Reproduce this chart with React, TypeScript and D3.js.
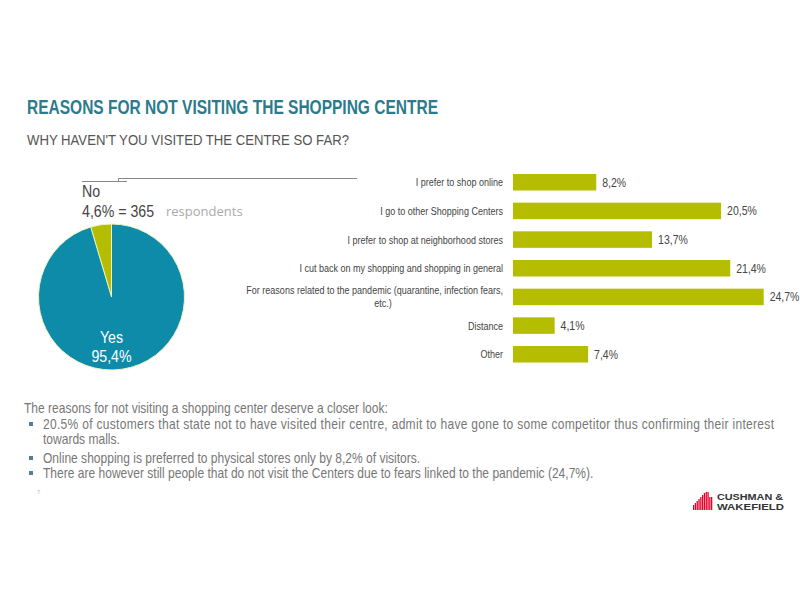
import React from "react";
import * as d3 from "d3";

const categories = [
  "I prefer to shop online",
  "I go to other Shopping Centers",
  "I prefer to shop at neighborhood stores",
  "I cut back on my shopping and shopping in general",
  "For reasons related to the pandemic (quarantine, infection fears,|etc.)",
  "Distance",
  "Other",
];
const values = [8.2, 20.5, 13.7, 21.4, 24.7, 4.1, 7.4];
const valueLabels = ["8,2%", "20,5%", "13,7%", "21,4%", "24,7%", "4,1%", "7,4%"];

const pieLabels = ["No", "Yes"];
const pieValues = [4.6, 95.4];
const pieValueLabels = ["4,6%", "95,4%"];

const bullets = [
  "20.5% of customers that state not to have visited their centre, admit to have gone to some competitor thus confirming their interest",
  "towards malls.",
  "Online shopping is preferred to physical stores only by 8,2% of visitors.",
  "There are however still people that do not visit the Centers due to fears linked to the pandemic (24,7%).",
];

const SANS = "'Liberation Sans', Arial, sans-serif";
const OLIVE = "#b5bd00";
const TEAL = "#0e8ba8";

type NProps = {
  x: number;
  y: number;
  size: number;
  fill: string;
  sx?: number;
  anchor?: "start" | "middle" | "end";
  weight?: string;
  len?: number;
  children: React.ReactNode;
};

function N({ x, y, size, fill, sx = 0.82, anchor = "start", weight = "normal", len, children }: NProps) {
  const extra: any = len ? { textLength: len / sx, lengthAdjust: "spacing" } : {};
  return (
    <text
      transform={`translate(${x},${y}) scale(${sx},1)`}
      textAnchor={anchor}
      fontFamily={SANS}
      fontSize={size}
      fontWeight={weight}
      fill={fill}
      {...extra}
    >
      {children}
    </text>
  );
}

export default function App() {
  const x = d3.scaleLinear().domain([0, 1]).range([513, 523.15]);
  const y = d3
    .scaleBand<string>()
    .domain(categories)
    .range([167.9, 368.6])
    .paddingInner(0.424)
    .paddingOuter(0.212);

  const pie = d3
    .pie<number>()
    .sort(null)
    .startAngle(-2 * Math.PI * (pieValues[0] / 100))
    .endAngle(2 * Math.PI - 2 * Math.PI * (pieValues[0] / 100));
  const arcs = pie(pieValues);
  const arc = d3.arc<d3.PieArcDatum<number>>().innerRadius(0).outerRadius(73);
  const pieColors = [OLIVE, TEAL];
  const cx = 111.5;
  const cy = 297;

  const logoBars = [5, 7, 9, 11, 13, 15, 17, 18, 18, 13, 13];

  return (
    <svg width={800} height={600} style={{ position: "absolute", left: 0, top: 0, background: "#fff" }}>
      <rect x={0} y={0} width={800} height={600} fill="#fff" />
      <text x={27} y={114} fontFamily={SANS} fontWeight="bold" fontSize={20} fill="#2b7b8c" textLength={411} lengthAdjust="spacingAndGlyphs">
        REASONS FOR NOT VISITING THE SHOPPING CENTRE
      </text>
      <text x={27} y={145} fontFamily={SANS} fontSize={14.5} fill="#555" textLength={322} lengthAdjust="spacingAndGlyphs">
        WHY HAVEN'T YOU VISITED THE CENTRE SO FAR?
      </text>

      {/* connector lines */}
      <path d="M82,181.5 H127 M118.5,181.5 V178.5 H357" fill="none" stroke="#888" strokeWidth={1} />

      {/* pie */}
      <g transform={`translate(${cx},${cy})`}>
        {arcs.map((a, i) => (
          <path key={i} d={arc(a) || ""} fill={pieColors[i]} stroke="#eef3c0" strokeWidth={1} />
        ))}
      </g>
      <N x={82} y={197} size={16.5} fill="#444" sx={0.86}>{pieLabels[0]}</N>
      <N x={82} y={217} size={16.5} fill="#444" sx={0.86}>
        {pieValueLabels[0]} = 365
      </N>
      <text x={166} y={216} fontFamily="'Open Sans', sans-serif" fontSize={13} fill="#aaa">respondents</text>
      <N x={cx} y={343} anchor="middle" size={16.5} fill="#fff" sx={0.86}>{pieLabels[1]}</N>
      <N x={cx} y={362} anchor="middle" size={16.5} fill="#fff" sx={0.86}>{pieValueLabels[1]}</N>

      {/* bars */}
      {categories.map((c, i) => {
        const by = y(c) as number;
        const bh = y.bandwidth();
        const lines = c.split("|");
        return (
          <g key={c}>
            <rect x={x(0)} y={by} width={x(values[i]) - x(0)} height={bh} fill={OLIVE} />
            <N x={x(values[i]) + 6} y={by + bh / 2 + 4.5} size={12.5} fill="#444" sx={0.84}>
              {valueLabels[i]}
            </N>
            {lines.length === 1 ? (
              <N x={503} y={by + bh / 2 + 4} anchor="end" size={10.5} fill="#444" sx={0.86}>
                {lines[0]}
              </N>
            ) : (
              <g>
                <N x={503} y={by + bh / 2 - 2.5} anchor="end" size={10.5} fill="#444" sx={0.86}>
                  {lines[0]}
                </N>
                <N x={383} y={by + bh / 2 + 10.5} anchor="middle" size={10.5} fill="#444" sx={0.86}>
                  {lines[1]}
                </N>
              </g>
            )}
          </g>
        );
      })}

      {/* bottom text */}
      <N x={24} y={413} size={14} fill="#777" sx={0.86}>
        The reasons for not visiting a shopping center deserve a closer look:
      </N>
      {[429, 444, 463, 478].map((by, i) => (
        <g key={i}>
          {i !== 1 && <rect x={29} y={by - 7} width={4} height={4} fill="#4f7f92" />}
          <N x={43} y={by} size={14} fill="#777" sx={0.86} len={i === 0 ? 731 : undefined}>
            {bullets[i]}
          </N>
        </g>
      ))}
      <text x={37} y={494} fontFamily={SANS} fontSize={6} fill="#bbb">7</text>

      {/* logo */}
      <g>
        {logoBars.map((h, i) => (
          <rect key={i} x={693 + i * 1.8} y={510 - h} width={1.3} height={h} fill="#e4002b" />
        ))}
        <text x={717} y={500} fontFamily={SANS} fontWeight="bold" fontSize={8.5} fill="#333" textLength={66} lengthAdjust="spacingAndGlyphs">
          CUSHMAN &amp;
        </text>
        <text x={717} y={510} fontFamily={SANS} fontWeight="bold" fontSize={8.5} fill="#333" textLength={67} lengthAdjust="spacingAndGlyphs">
          WAKEFIELD
        </text>
      </g>
    </svg>
  );
}
